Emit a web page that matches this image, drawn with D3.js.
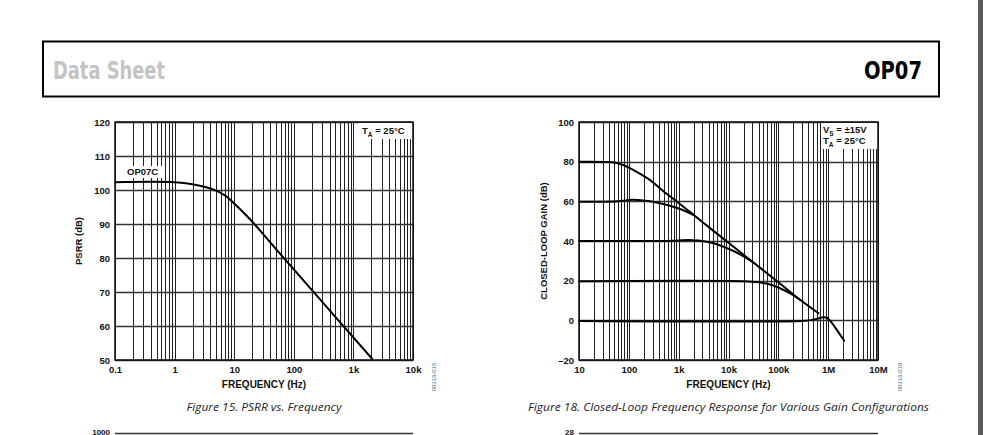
<!DOCTYPE html>
<html>
<head>
<meta charset="utf-8">
<script src="https://cdn.jsdelivr.net/npm/d3@7"></script>
<style>
  html, body { margin: 0; padding: 0; background: #fff; }
  svg { display: block; }
  .ax text { font-family: "Liberation Sans", Arial, sans-serif; font-weight: bold; font-size: 9.5px; fill: #111; }
</style>
</head>
<body>
<script>
// ---------- DATA ----------
// Figure 15: PSRR vs frequency
const psrrFreq = [0.1, 1, 2, 4.4, 7, 10, 15, 21, 30, 51.6, 200, 2075];
const psrrDb   = [102.3, 102.3, 101.7, 100.2, 98.4, 96.0, 93.0, 90.3, 87.2, 82.4, 70.6, 50.3];
const psrrXTickVals   = [0.1, 1, 10, 100, 1000, 10000];
const psrrXTickLabels = ["0.1", "1", "10", "100", "1k", "10k"];
const psrrYTicks = [50, 60, 70, 80, 90, 100, 110, 120];

// Figure 18: closed-loop gain vs frequency
const gainFreq80 = [10, 40, 60, 100, 150, 263, 500, 1000, 1660, 5000, 10000, 30000, 100000, 300000, 640000];
const gain80     = [80, 79.8, 79.2, 77, 74.6, 70.8, 65.0, 59.2, 54.8, 45.1, 39.1, 29.6, 19.2, 9.6, 3.6];
const gainFreq60 = [10, 60, 120, 200, 400, 660, 1000, 1500, 2000];
const gain60     = [59.8, 60.1, 60.8, 60.4, 59.2, 57.8, 56.4, 54.6, 53.1];
const gainFreq40 = [10, 800, 1600, 2500, 5000, 7600, 12000, 20000, 30000];
const gain40     = [40, 40.1, 40.5, 40.2, 38.9, 37.3, 35.2, 32.3, 29.6];
const gainFreq20 = [10, 20000, 40000, 60000, 105000, 180000, 270000];
const gain20     = [19.7, 19.7, 19.2, 18.4, 16.3, 13.3, 10.4];
const gainFreq0  = [10, 300000, 450000, 600000, 800000, 950000, 1100000, 1400000, 2100000];
const gain0      = [-0.3, -0.3, 0.1, 0.8, 1.6, 1.3, -0.3, -3.8, -10.3];
const gainXTickVals   = [10, 100, 1000, 10000, 100000, 1000000, 10000000];
const gainXTickLabels = ["10", "100", "1k", "10k", "100k", "1M", "10M"];
const gainYTicks = [-20, 0, 20, 40, 60, 80, 100];
const gainYLabels = ["–20", "0", "20", "40", "60", "80", "100"];

// ---------- DRAW ----------
const W = 988, H = 435;
const svg = d3.select("body").append("svg").attr("width", W).attr("height", H);

// header box
svg.append("rect").attr("x", 43).attr("y", 41.5).attr("width", 896).attr("height", 55)
  .attr("fill", "none").attr("stroke", "#000").attr("stroke-width", 2);
svg.append("text").attr("x", 53).attr("y", 79)
  .attr("font-family", "DejaVu Sans Condensed, DejaVu Sans").attr("font-weight", "bold")
  .attr("font-size", 25).attr("fill", "#c4c4c4")
  .attr("textLength", 112).attr("lengthAdjust", "spacingAndGlyphs").text("Data Sheet");
svg.append("text").attr("x", 922).attr("y", 79).attr("text-anchor", "end")
  .attr("font-family", "DejaVu Sans Condensed, DejaVu Sans").attr("font-weight", "bold")
  .attr("font-size", 25).attr("fill", "#000")
  .attr("textLength", 58).attr("lengthAdjust", "spacingAndGlyphs").text("OP07");

// right-hand scrollbar strip
svg.append("rect").attr("x", 978).attr("y", 0).attr("width", 5).attr("height", H).attr("fill", "#5a5a5a");

const FONT = "Liberation Sans, Arial, sans-serif";

function chart(opt) {
  const {x0, x1, y0, y1, xDomain, yDomain, xTickVals, xTickLabels, yTicks, yLabels,
         series, yTitle, yTitleX, caption, captionLen, idText, idX, nextLabel} = opt;
  const x = d3.scaleLog().domain(xDomain).range([x0, x1]);
  const y = d3.scaleLinear().domain(yDomain).range([y1, y0]);
  const g = svg.append("g");

  // vertical log grid (all 1..9 multiples)
  g.append("g").selectAll("line").data(x.ticks(20)).join("line")
    .attr("x1", d => Math.round(x(d)) + 0.5).attr("x2", d => Math.round(x(d)) + 0.5)
    .attr("y1", y0).attr("y2", y1)
    .attr("stroke", "#222").attr("stroke-width", 1);
  // horizontal grid
  g.append("g").selectAll("line").data(yTicks).join("line")
    .attr("x1", x0).attr("x2", x1)
    .attr("y1", d => Math.round(y(d)) + 0.5).attr("y2", d => Math.round(y(d)) + 0.5)
    .attr("stroke", "#333").attr("stroke-width", 1.5);

  // axes labels (no lines)
  const xa = d3.axisBottom(x).tickValues(xTickVals)
    .tickFormat((d, i) => xTickLabels[i]).tickSize(0).tickPadding(0);
  const xg = g.append("g").attr("class", "ax").attr("transform", `translate(0,${y1 + 6})`).call(xa);
  xg.select(".domain").remove();
  xg.selectAll("text").attr("dy", "0.71em");

  const ya = d3.axisLeft(y).tickValues(yTicks)
    .tickFormat((d, i) => yLabels ? yLabels[i] : d).tickSize(0).tickPadding(5);
  const yg = g.append("g").attr("class", "ax").attr("transform", `translate(${x0},0)`).call(ya);
  yg.select(".domain").remove();

  // plot border
  g.append("rect").attr("x", x0).attr("y", y0).attr("width", x1 - x0).attr("height", y1 - y0)
    .attr("fill", "none").attr("stroke", "#111").attr("stroke-width", 1.5);

  // curves
  const line = d3.line().x(d => x(d[0])).y(d => y(d[1])).curve(d3.curveCatmullRom.alpha(0.5));
  series.forEach(s => {
    g.append("path").datum(s.f.map((f, i) => [f, s.v[i]]))
      .attr("d", line).attr("fill", "none").attr("stroke", "#000")
      .attr("stroke-width", 2).attr("stroke-linejoin", "round").attr("stroke-linecap", "round");
  });

  // axis titles
  g.append("text").attr("x", (x0 + x1) / 2).attr("y", y1 + 28).attr("text-anchor", "middle")
    .attr("font-family", FONT).attr("font-weight", "bold")
    .attr("font-size", 10).attr("fill", "#111").text("FREQUENCY (Hz)");
  g.append("text").attr("transform", `translate(${yTitleX},${(y0 + y1) / 2}) rotate(-90)`)
    .attr("text-anchor", "middle")
    .attr("font-family", FONT).attr("font-weight", "bold")
    .attr("font-size", 9.5).attr("fill", "#111").text(yTitle);

  // caption
  g.append("text").attr("x", (x0 + x1) / 2).attr("y", 411).attr("text-anchor", "middle")
    .attr("font-family", "Open Sans, sans-serif").attr("font-style", "italic")
    .attr("font-size", 11).attr("fill", "#1d1d2b")
    .attr("textLength", captionLen).attr("lengthAdjust", "spacingAndGlyphs").text(caption);

  // figure id
  g.append("text").attr("transform", `translate(${idX},${y1 + 17}) rotate(-90)`)
    .attr("text-anchor", "middle")
    .attr("font-family", FONT).attr("font-size", 6)
    .attr("fill", "#4f6b88").text(idText);

  // next figure peeking in at the bottom
  g.append("line").attr("x1", x0).attr("x2", x1).attr("y1", 433.5).attr("y2", 433.5)
    .attr("stroke", "#333").attr("stroke-width", 1.4);
  g.append("text").attr("x", x0 - 5).attr("y", 434.5).attr("text-anchor", "end")
    .attr("font-family", FONT).attr("font-weight", "bold")
    .attr("font-size", 8).attr("fill", "#111").text(nextLabel);

  return {g, x, y};
}

function subText(g, xPos, yPos, main, sub, rest) {
  const t = g.append("text").attr("x", xPos).attr("y", yPos)
    .attr("font-family", FONT).attr("font-weight", "bold")
    .attr("font-size", 9.5).attr("fill", "#111");
  t.append("tspan").text(main);
  t.append("tspan").attr("font-size", 6.5).attr("dy", 2.5).text(sub);
  t.append("tspan").attr("dy", -2.5).text(rest);
  return t;
}

// ---- Figure 15 ----
const c1 = chart({
  x0: 115, x1: 413, y0: 122, y1: 360,
  xDomain: [0.1, 10000], yDomain: [50, 120],
  xTickVals: psrrXTickVals, xTickLabels: psrrXTickLabels,
  yTicks: psrrYTicks, yLabels: null,
  series: [{f: psrrFreq, v: psrrDb}],
  yTitle: "PSRR (dB)", yTitleX: 82,
  caption: "Figure 15. PSRR vs. Frequency", captionLen: 155,
  idText: "00316-015", idX: 436, nextLabel: "1000"
});
// legend box (top right)
c1.g.append("rect").attr("x", 358).attr("y", 123).attr("width", 54).attr("height", 16).attr("fill", "#fff");
subText(c1.g, 362, 134, "T", "A", " = 25°C");
// OP07C label with white background
c1.g.append("rect").attr("x", 124).attr("y", 166).attr("width", 38).attr("height", 12).attr("fill", "#fff");
c1.g.append("text").attr("x", 127).attr("y", 175)
  .attr("font-family", FONT).attr("font-weight", "bold")
  .attr("font-size", 9.5).attr("fill", "#111").text("OP07C");

// ---- Figure 18 ----
const c2 = chart({
  x0: 579, x1: 878, y0: 122, y1: 360,
  xDomain: [10, 10000000], yDomain: [-20, 100],
  xTickVals: gainXTickVals, xTickLabels: gainXTickLabels,
  yTicks: gainYTicks, yLabels: gainYLabels,
  series: [
    {f: gainFreq80, v: gain80},
    {f: gainFreq60, v: gain60},
    {f: gainFreq40, v: gain40},
    {f: gainFreq20, v: gain20},
    {f: gainFreq0, v: gain0}
  ],
  yTitle: "CLOSED-LOOP GAIN (dB)", yTitleX: 547,
  caption: "Figure 18. Closed-Loop Frequency Response for Various Gain Configurations", captionLen: 401,
  idText: "00316-018", idX: 902, nextLabel: "28"
});
c2.g.append("rect").attr("x", 821).attr("y", 123).attr("width", 56).attr("height", 26).attr("fill", "#fff");
subText(c2.g, 823, 133, "V", "S", " = ±15V");
subText(c2.g, 823, 144, "T", "A", " = 25°C");
</script>
</body>
</html>
